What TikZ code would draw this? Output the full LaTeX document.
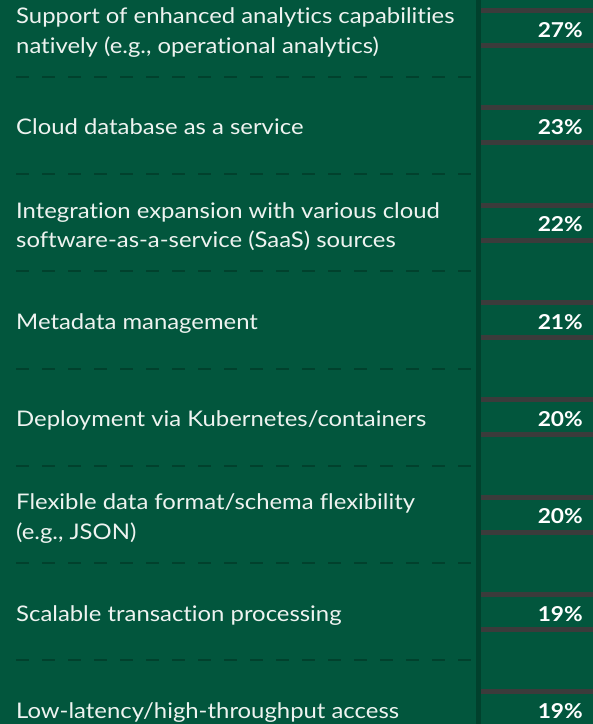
\documentclass[tikz,border=0pt]{standalone}
\usepackage{fontspec}
\setmainfont{Lato}[FakeStretch=1.11, Ligatures=CommonOff]
\definecolor{bggreen}{HTML}{02563D}
\definecolor{divgreen}{HTML}{01412D}
\definecolor{bargrey}{HTML}{3B3B3B}
\definecolor{lbltext}{HTML}{EEF3F0}
\tikzset{
  rowlabel/.style={anchor=base west, align=left, text=lbltext, inner sep=0pt, font=\fontsize{21.5}{29.6}\selectfont},
  rowvalue/.style={anchor=base east, text=white, inner sep=0pt, font=\fontsize{20.5}{24}\selectfont\bfseries},
  rowbar/.style={draw=bargrey, line width=5pt},
  rowsep/.style={draw=divgreen, line width=2pt, dash pattern=on 13pt off 13pt},
  axisline/.style={draw=divgreen, line width=5pt}
}

\begin{document}
\begin{tikzpicture}[x=1pt,y=-1pt]
\fill[bggreen] (0,0) rectangle (593,724);
\useasboundingbox (0,0) rectangle (593,724);
% dashed row separators
\foreach \i in {0,...,6} {
  \pgfmathsetmacro\ys{28+97.3*\i+48.65}
  \draw[rowsep] (16,\ys) -- (476,\ys);
}
\draw[axisline] (478.5,0) -- (478.5,724);
% rows: label / value / baseline offset of last line
\foreach \lbl/\val/\bl [count=\i from 0] in {
  {Support of enhanced analytics capabilities\\natively (e.g., operational analytics)}/27/25,
  {Cloud database as a service}/23/9.5,
  {Integration expansion with various cloud\\software-as-a-service (SaaS) sources}/22/25,
  {Metadata management}/21/9.5,
  {Deployment via Kubernetes/containers}/20/9.5,
  {Flexible data format/schema flexibility\\(e.g., JSON)}/20/25,
  {Scalable transaction processing}/19/9.5,
  {Low-latency/high-throughput access}/19/9.5} {
  \pgfmathsetmacro\yc{28+97.3*\i}
  \draw[rowbar] (481,\yc-17.5) -- (593,\yc-17.5);
  \draw[rowbar] (481,\yc+17.5) -- (593,\yc+17.5);
  \node[rowlabel] (lbl\i) at (16,\yc+\bl) {\lbl};
  \node[rowvalue] (val\i) at (583,\yc+9.2) {\val\%};
}
\end{tikzpicture}
\end{document}
